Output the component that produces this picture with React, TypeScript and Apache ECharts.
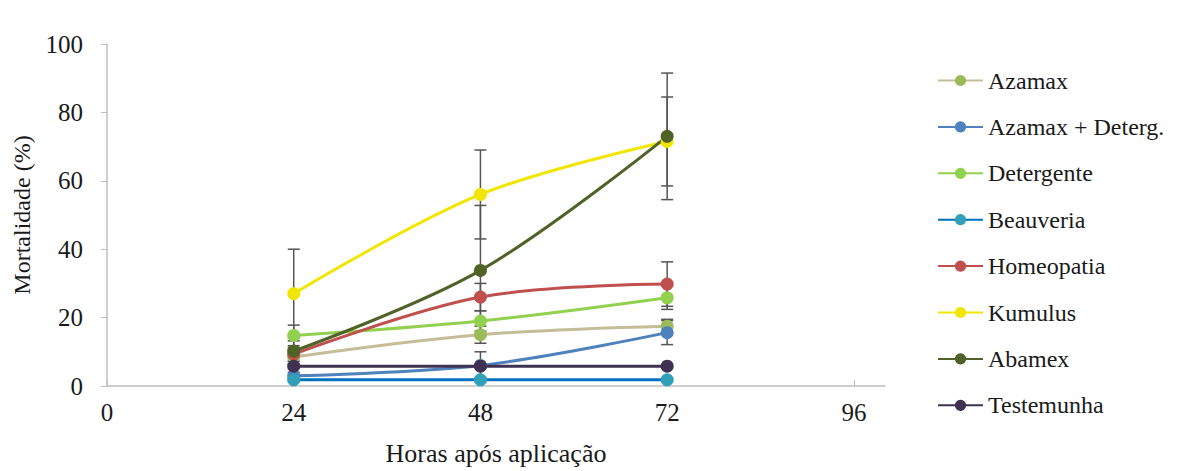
import React, { useEffect, useRef } from "react";
import * as echarts from "echarts";

const hours = [24, 48, 72];
const xTicks = [0, 24, 48, 72, 96];
const seriesNames = [
  "Azamax",
  "Azamax + Deterg.",
  "Detergente",
  "Beauveria",
  "Homeopatia",
  "Kumulus",
  "Abamex",
  "Testemunha",
];
const azamax = [8.5, 15, 17.5];
const azamaxDeterg = [3, 6, 15.6];
const detergente = [14.8, 19, 25.8];
const beauveria = [1.8, 1.8, 1.8];
const homeopatia = [9.3, 26, 29.8];
const kumulus = [27, 56, 71.5];
const abamex = [10.2, 33.8, 73];
const testemunha = [5.8, 5.8, 5.8];

const azamaxErr = [2, 2.5, 2];
const azamaxDetergErr = [1, 4, 3.5];
const detergenteErr = [3, 3, 3.4];
const beauveriaErr = [0.5, 0.5, 0.5];
const homeopatiaErr = [2, 4, 6.5];
const kumulusErr = [13, 13, 13];
const abamexErr = [3, 19, 18.5];
const testemunhaErr = [0.5, 0.5, 0.5];

const allValues = [azamax, azamaxDeterg, detergente, beauveria, homeopatia, kumulus, abamex, testemunha];
const allErrors = [azamaxErr, azamaxDetergErr, detergenteErr, beauveriaErr, homeopatiaErr, kumulusErr, abamexErr, testemunhaErr];
const lineColors = ["#C4BD97", "#4F81BD", "#92D050", "#0070C0", "#C0504D", "#F2E600", "#4F6228", "#3F3151"];
const markerColors = ["#9BBB59", "#4F81BD", "#92D050", "#31A0B8", "#C0504D", "#F2E600", "#4F6228", "#3F3151"];

const FONT = "Liberation Serif";
const TXT = "#1a1a1a";

export default function App() {
  const ref = useRef<HTMLDivElement>(null);
  useEffect(() => {
    if (!ref.current) return;
    const chart = echarts.init(ref.current, undefined, { renderer: "svg" });

    const errData: number[][] = [];
    allValues.forEach((vals, si) => {
      vals.forEach((v, i) => {
        errData.push([hours[i], v - allErrors[si][i], v + allErrors[si][i]]);
      });
    });

    const lineSeries = seriesNames.map((name, si) => ({
      name,
      type: "line",
      data: hours.map((h, i) => [h, allValues[si][i]]),
      smooth: 0.35,
      symbol: "circle",
      symbolSize: 13,
      lineStyle: { color: lineColors[si], width: 3 },
      itemStyle: { color: markerColors[si] },
      z: 3,
    }));

    chart.setOption({
      animation: false,
      backgroundColor: "#ffffff",
      grid: { left: 107, top: 44, right: 292, bottom: 82 },
      legend: {
        orient: "vertical",
        left: 932,
        top: 63,
        itemGap: 21.4,
        itemWidth: 45,
        itemHeight: 14,
        data: seriesNames,
        textStyle: { fontFamily: FONT, fontSize: 24, color: TXT, lineHeight: 25 },
      },
      xAxis: {
        type: "value",
        min: 0,
        max: 100,
        interval: 24,
        name: "Horas após aplicação",
        nameLocation: "middle",
        nameGap: 54,
        nameTextStyle: { fontFamily: FONT, fontSize: 26, color: TXT },
        axisLine: { lineStyle: { color: "#bfbfbf", width: 1.5 } },
        axisTick: { inside: true, length: 6, lineStyle: { color: "#bfbfbf" } },
        splitLine: { show: false },
        axisLabel: {
          fontFamily: FONT,
          fontSize: 25,
          color: TXT,
          margin: 14,
          showMaxLabel: false,
          formatter: (v: number) => (xTicks.indexOf(v) >= 0 ? String(v) : ""),
        },
      },
      yAxis: {
        type: "value",
        min: 0,
        max: 100,
        interval: 20,
        name: "Mortalidade (%)",
        nameLocation: "middle",
        nameRotate: 90,
        nameGap: 73,
        nameTextStyle: { fontFamily: FONT, fontSize: 24, color: TXT },
        axisLine: { show: true, lineStyle: { color: "#bfbfbf", width: 1.5 } },
        axisTick: { show: true, inside: false, length: 6, lineStyle: { color: "#bfbfbf" } },
        splitLine: { show: false },
        axisLabel: { fontFamily: FONT, fontSize: 25, color: TXT, margin: 24 },
      },
      series: [
        {
          type: "custom",
          name: "errors",
          silent: true,
          z: 2,
          data: errData,
          encode: { x: 0, y: [1, 2] },
          renderItem: (params: any, api: any) => {
            const x = api.value(0);
            const lo = api.coord([x, api.value(1)]);
            const hi = api.coord([x, api.value(2)]);
            const half = 6;
            const style = { stroke: "#555555", lineWidth: 1.5 };
            return {
              type: "group",
              children: [
                { type: "line", shape: { x1: lo[0], y1: lo[1], x2: hi[0], y2: hi[1] }, style },
                { type: "line", shape: { x1: hi[0] - half, y1: hi[1], x2: hi[0] + half, y2: hi[1] }, style },
                { type: "line", shape: { x1: lo[0] - half, y1: lo[1], x2: lo[0] + half, y2: lo[1] }, style },
              ],
            };
          },
        },
        ...lineSeries,
      ],
    });
    return () => chart.dispose();
  }, []);
  return (
    <div
      ref={ref}
      style={{ position: "fixed", left: 0, top: 0, width: 1177, height: 471, background: "#fff" }}
    />
  );
}
